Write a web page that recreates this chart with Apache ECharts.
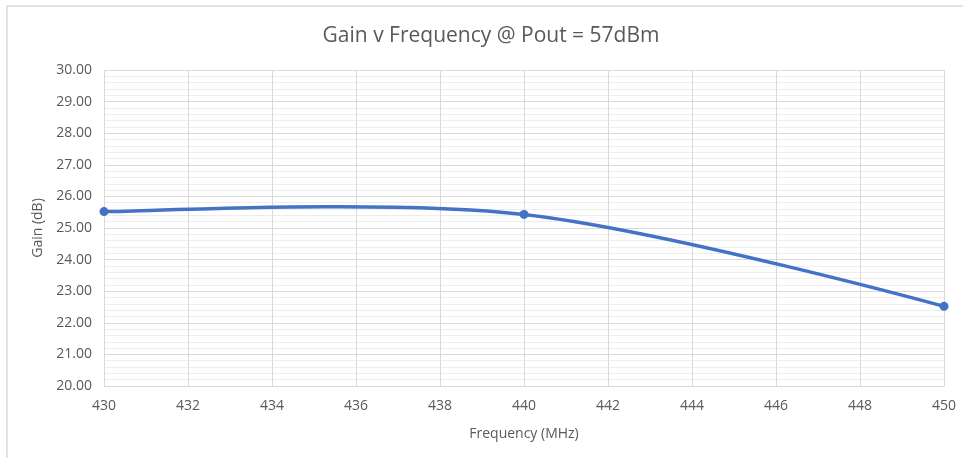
<!DOCTYPE html>
<html>
<head>
<meta charset="utf-8">
<title>Gain v Frequency</title>
<script src="https://cdn.jsdelivr.net/npm/echarts@6/dist/echarts.min.js"></script>
<style>
  html, body { margin: 0; padding: 0; background: #ffffff; }
  #chart { width: 963px; height: 458px; }
</style>
</head>
<body>
<div id="chart"></div>
<script>
// Measured gain at each test frequency
const frequencies = [430, 440, 450];
const gainDb = [25.52, 25.43, 22.52];

// Axis ranges
const xRange = { min: 430, max: 450, step: 2 };
const yRange = { min: 20, max: 30, step: 1 };

const textColor = '#595959';
const gridColor = '#d9d9d9';
const minorColor = '#ededed';
const lineColor = '#4472c4';
const fontFamily = '"Open Sans", "Noto Sans", sans-serif';

// Tension of the spline through the measured points
const SMOOTH = 1 / 3;

const points = frequencies.map((f, i) => [f, gainDb[i]]);

// Smoothed curve through all points, drawn as cubic Bezier segments in
// pixel space (control points follow the neighbouring-point tangent, with
// no clamping so the curve can rise above the end points).
function renderCurve(params, api) {
  if (params.dataIndex !== 0) return null;
  const px = points.map((p) => api.coord(p));
  const n = px.length;
  const children = [];
  const cps = px.map((p, i) => {
    const prev = px[Math.max(i - 1, 0)];
    const next = px[Math.min(i + 1, n - 1)];
    const vx = next[0] - prev[0];
    const vy = next[1] - prev[1];
    const d0 = Math.hypot(p[0] - prev[0], p[1] - prev[1]);
    const d1 = Math.hypot(next[0] - p[0], next[1] - p[1]);
    const r = (d0 + d1) > 0 ? d1 / (d0 + d1) : 0.5;
    if (i === 0) {
      // start point: short tangent toward the next point
      return { back: p.slice(), fwd: [p[0] + vx * SMOOTH * 0.5 * 0.5, p[1] + vy * SMOOTH * 0.5 * 0.5] };
    }
    if (i === n - 1) {
      return { back: p.slice(), fwd: p.slice() };
    }
    return {
      back: [p[0] - vx * SMOOTH * (1 - r), p[1] - vy * SMOOTH * (1 - r)],
      fwd: [p[0] + vx * SMOOTH * r, p[1] + vy * SMOOTH * r]
    };
  });
  for (let i = 0; i < n - 1; i++) {
    children.push({
      type: 'bezierCurve',
      shape: {
        x1: px[i][0], y1: px[i][1],
        x2: px[i + 1][0], y2: px[i + 1][1],
        cpx1: cps[i].fwd[0], cpy1: cps[i].fwd[1],
        cpx2: cps[i + 1].back[0], cpy2: cps[i + 1].back[1]
      },
      style: { stroke: lineColor, lineWidth: 3.5, fill: null, lineCap: 'round' }
    });
  }
  return { type: 'group', children: children };
}

const chart = echarts.init(document.getElementById('chart'), null, { renderer: 'canvas' });

chart.setOption({
  backgroundColor: '#ffffff',
  animation: false,
  textStyle: { fontFamily: fontFamily },
  graphic: [{
    type: 'rect',
    z: -10,
    shape: { x: 7, y: 6, width: 1000, height: 500 },
    style: { fill: 'none', stroke: gridColor, lineWidth: 1.5 }
  }],
  title: {
    text: 'Gain v Frequency @ Pout = 57dBm',
    left: 486,
    top: 21,
    textAlign: 'center',
    textStyle: { color: textColor, fontSize: 21, fontWeight: 'normal', fontFamily: fontFamily }
  },
  grid: { left: 104, right: 19, top: 70, bottom: 72, containLabel: false },
  xAxis: {
    type: 'value',
    min: xRange.min,
    max: xRange.max,
    interval: xRange.step,
    name: 'Frequency (MHz)',
    nameLocation: 'middle',
    nameGap: 41,
    nameTextStyle: { color: textColor, fontSize: 14, fontFamily: fontFamily },
    axisLine: { show: true, lineStyle: { color: gridColor, width: 1 } },
    axisTick: { show: false },
    axisLabel: { color: textColor, fontSize: 14, margin: 13, fontFamily: fontFamily },
    splitLine: { show: true, lineStyle: { color: gridColor, width: 1 } }
  },
  yAxis: {
    type: 'value',
    min: yRange.min,
    max: yRange.max,
    interval: yRange.step,
    name: 'Gain (dB)',
    nameLocation: 'middle',
    nameGap: 56,
    nameRotate: 90,
    nameTextStyle: { color: textColor, fontSize: 14, fontFamily: fontFamily },
    axisLine: { show: false },
    axisTick: { show: false },
    axisLabel: {
      color: textColor, fontSize: 14, margin: 12, fontFamily: fontFamily,
      formatter: (v) => v.toFixed(2)
    },
    splitLine: { show: true, lineStyle: { color: gridColor, width: 1 } },
    minorTick: { show: false, splitNumber: 5 },
    minorSplitLine: { show: true, lineStyle: { color: minorColor, width: 1 } }
  },
  series: [
    {
      type: 'custom',
      name: 'Gain',
      renderItem: renderCurve,
      data: points,
      encode: { x: 0, y: 1 },
      z: 2
    },
    {
      type: 'scatter',
      name: 'Gain',
      data: points,
      symbol: 'circle',
      symbolSize: 9,
      itemStyle: { color: lineColor, opacity: 1 },
      z: 3
    }
  ]
});
</script>
</body>
</html>
